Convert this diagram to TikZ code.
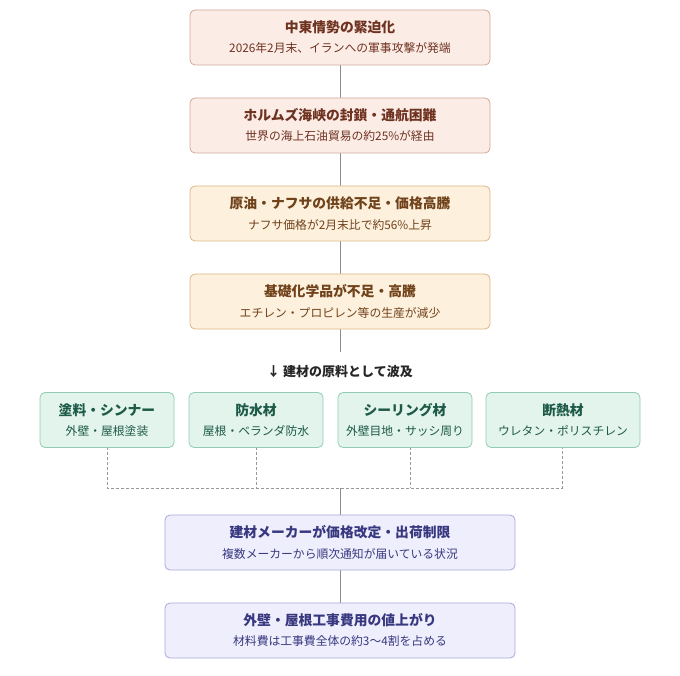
\documentclass[tikz,border=0pt]{standalone}
\usepackage{fontspec}
\setmainfont{Noto Sans CJK JP}
\begin{document}
\begin{tikzpicture}[x=1pt,y=-1pt,
 tt/.style={font=\fontsize{13.8}{16}\selectfont\bfseries},
 st/.style={font=\fontsize{11.8}{14}\selectfont},
 ln/.style={draw=gray!90, line width=1pt},
 dl/.style={draw=gray!80, line width=0.9pt, dash pattern=on 3pt off 2pt}]
\useasboundingbox (0,0) rectangle (680,676);
\definecolor{rf}{HTML}{FCECE6}\definecolor{rs}{HTML}{D4A898}\definecolor{rt}{HTML}{6E3220}
\definecolor{of}{HTML}{FDF0DD}\definecolor{os}{HTML}{DDB884}\definecolor{ot}{HTML}{70421A}
\definecolor{gf}{HTML}{E2F4EC}\definecolor{gs}{HTML}{93CCB4}\definecolor{gt}{HTML}{1E5A48}
\definecolor{pf}{HTML}{EEEEFC}\definecolor{ps}{HTML}{A8A8DA}\definecolor{pt}{HTML}{383880}
\coordinate (j) at (340,488);
\draw[ln] (340,65) -- (340,98) (340,153) -- (340,186) (340,241) -- (340,274) (340,329) -- (340,352);
\draw[ln] (j) -- (340,515) (340,570) -- (340,603);
\draw[dl] (107,447) -- (107,488) -- (562,488) -- (562,447);
\draw[dl] (256,447) -- (256,488) (410,447) -- (410,488);
\newcommand\mybox[8]{%
 \node[draw=#5,fill=#6,rounded corners=5pt,line width=0.8pt,minimum width=#3,minimum height=55pt,inner sep=0pt] (#8) at (#1,#2) {};
 \node[tt,text=#7] at (#1,#2-10) {#4};}
\newcommand\mysub[4]{\node[st,text=#3] at (#1,#2+11) {#4};}
\mybox{340}{37.5}{300pt}{中東情勢の緊迫化}{rs}{rf}{rt}{a}
\mysub{340}{37.5}{rt}{2026年2月末、イランへの軍事攻撃が発端}
\mybox{340}{125.5}{300pt}{ホルムズ海峡の封鎖・通航困難}{rs}{rf}{rt}{b}
\mysub{340}{125.5}{rt}{世界の海上石油貿易の約25\%が経由}
\mybox{340}{213.5}{300pt}{原油・ナフサの供給不足・価格高騰}{os}{of}{ot}{c}
\mysub{340}{213.5}{ot}{ナフサ価格が2月末比で約56\%上昇}
\mybox{340}{301.5}{300pt}{基礎化学品が不足・高騰}{os}{of}{ot}{d}
\mysub{340}{301.5}{ot}{エチレン・プロピレン等の生産が減少}
\node[font=\fontsize{13}{15}\selectfont\bfseries,text=black!85] (lab) at (340,372) {↓ 建材の原料として波及};
\mybox{107}{420}{134pt}{塗料・シンナー}{gs}{gf}{gt}{g1}
\mysub{107}{420}{gt}{外壁・屋根塗装}
\mybox{256}{420}{134pt}{防水材}{gs}{gf}{gt}{g2}
\mysub{256}{420}{gt}{屋根・ベランダ防水}
\mybox{405}{420}{134pt}{シーリング材}{gs}{gf}{gt}{g3}
\mysub{405}{420}{gt}{外壁目地・サッシ周り}
\mybox{563}{420}{154pt}{断熱材}{gs}{gf}{gt}{g4}
\mysub{563}{420}{gt}{ウレタン・ポリスチレン}
\mybox{340}{542.5}{350pt}{建材メーカーが価格改定・出荷制限}{ps}{pf}{pt}{e}
\mysub{340}{542.5}{pt}{複数メーカーから順次通知が届いている状況}
\mybox{340}{630.5}{350pt}{外壁・屋根工事費用の値上がり}{ps}{pf}{pt}{f}
\mysub{340}{630.5}{pt}{材料費は工事費全体の約3〜4割を占める}
\end{tikzpicture}
\end{document}
